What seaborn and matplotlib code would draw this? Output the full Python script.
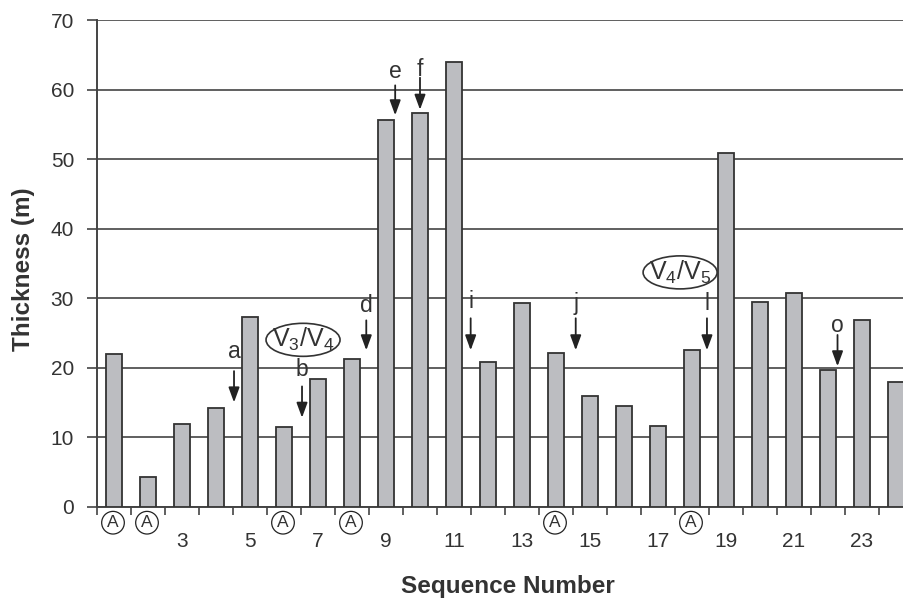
import matplotlib
matplotlib.use("Agg")
import matplotlib.pyplot as plt
import seaborn as sns
import numpy as np
import pandas as pd
from matplotlib.patches import Ellipse

sequence = list(range(1, 25))
thickness = [21.9, 4.3, 11.9, 14.2, 27.3, 11.5, 18.3, 21.3, 55.6, 56.6, 63.9, 20.8,
             29.3, 22.1, 15.9, 14.5, 11.6, 22.6, 50.9, 29.4, 30.7, 19.6, 26.9, 18.0]
tick_labels = [3, 5, 7, 9, 11, 13, 15, 17, 19, 21, 23]
circled_seq = [1, 2, 6, 8, 14, 18]
arrow_letters = ["a", "b", "d", "e", "f", "i", "j", "l", "o"]
arrow_x = [4.53, 6.53, 8.42, 9.27, 10.0, 11.49, 14.58, 18.44, 22.28]
arrow_tip = [15.0, 12.8, 22.5, 56.3, 57.1, 22.5, 22.5, 22.5, 20.2]
arrow_top = [19.5, 17.3, 26.8, 60.6, 61.7, 27.1, 27.1, 27.1, 24.7]
letter_base = [21.4, 18.8, 28.0, 61.7, 61.9, 28.6, 28.3, 28.3, 25.1]
ellipse_labels = [r"V$_3$/V$_4$", r"V$_4$/V$_5$"]
ellipse_x = [6.56, 17.65]
ellipse_y = [24.0, 33.7]

sns.set_theme(style="white")
plt.rcParams["font.family"] = ["Liberation Sans", "DejaVu Sans"]
plt.rcParams["mathtext.default"] = "regular"

DARK = "#333333"
fig = plt.figure(figsize=(9.04, 6.01), dpi=100)
ax = fig.add_axes([97/904, 94.3/601, 1 - 97/904, 486.7/601])

df = pd.DataFrame({"seq": sequence, "thk": thickness})
sns.barplot(data=df, x="seq", y="thk", native_scale=True, width=0.47,
            color="#bcbdc1", saturation=1, edgecolor=DARK, linewidth=1.3, ax=ax,
            zorder=3)

ax.set_yticks(range(0, 71, 10))
ax.set_xticks(tick_labels)
ax.set_xticklabels([str(t) for t in tick_labels])
ax.set_xticks(np.arange(0.5, 25, 1), minor=True)
ax.set_xlim(0.5, 0.5 + 807/34)
ax.set_ylim(0, 70)
ax.yaxis.grid(True, color="#444444", linewidth=1.2, zorder=0)
ax.set_axisbelow(True)

for s in ["top", "right"]:
    ax.spines[s].set_visible(False)
for s in ["left", "bottom"]:
    ax.spines[s].set_color("#444444")
    ax.spines[s].set_linewidth(1.4)

ax.tick_params(axis="y", direction="out", length=7.5, width=1.2, color="#444444",
               labelsize=15, labelcolor=DARK, pad=9, left=True)
ax.tick_params(axis="x", which="major", length=0, labelsize=15, labelcolor=DARK, pad=18)
ax.tick_params(axis="x", which="minor", direction="out", length=6, width=1.2,
               color="#444444", bottom=True)

ax.set_xlabel("")
ax.set_ylabel("Thickness (m)", fontsize=17.5, fontweight="bold", color=DARK)
ax.yaxis.set_label_coords(-0.077, 0.487)
fig.text(508/904, 1 - 586/601, "Sequence Number", fontsize=17.5, fontweight="bold",
         color=DARK, ha="center", va="center")

# circled A markers
for s in circled_seq:
    ax.annotate("A", xy=(s, 0), xycoords="data", xytext=(-1, -16),
                textcoords="offset pixels", ha="center", va="center", fontsize=12.5,
                color=DARK, annotation_clip=False,
                bbox=dict(boxstyle="circle,pad=0.22", fc="white", ec="#222222", lw=0.9))

# letter arrows
for L, x, tip, top, base in zip(arrow_letters, arrow_x, arrow_tip, arrow_top, letter_base):
    ax.annotate("", xy=(x, tip), xytext=(x, top),
                arrowprops=dict(arrowstyle="-|>,head_length=0.6,head_width=0.22",
                                color="#222222", lw=1.3,
                                mutation_scale=15, shrinkA=0, shrinkB=0), zorder=5)
    ax.text(x, base, L, ha="center", va="baseline", fontsize=16.5, color=DARK,
            zorder=5)

# ellipse labels
for lab, x, y in zip(ellipse_labels, ellipse_x, ellipse_y):
    e = Ellipse((x, y), width=74/34, height=33/6.95, fill=False, ec=DARK, lw=1.2,
                zorder=5)
    ax.add_patch(e)
    ax.text(x, y, lab, ha="center", va="center", fontsize=18, color=DARK, zorder=6)

fig.savefig("out.png", dpi=100)
